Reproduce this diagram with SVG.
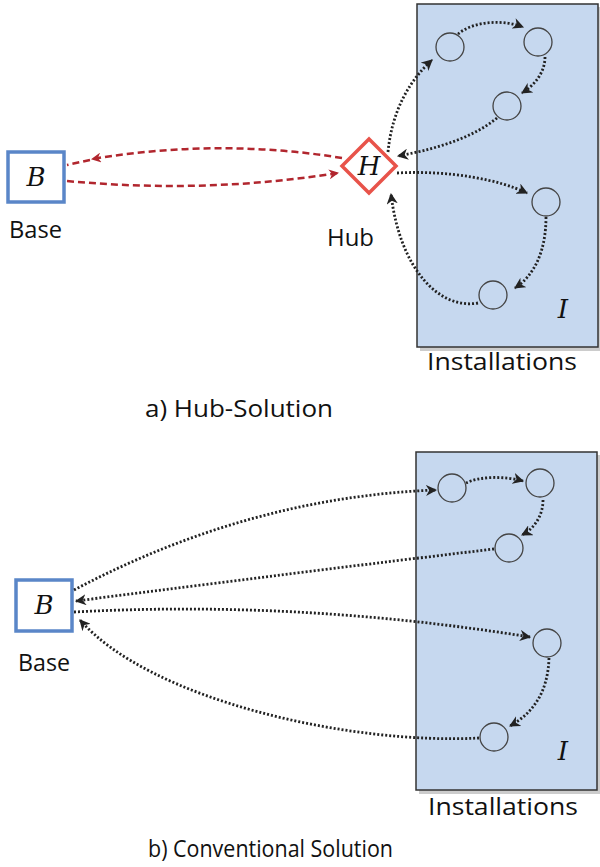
<svg xmlns="http://www.w3.org/2000/svg" width="600" height="867" viewBox="0 0 600 867">
<defs>
<style>
.lbl{font-family:"Open Sans",Lato,"Liberation Sans",sans-serif;font-size:23px;fill:#111;}
.sym{font-family:"DejaVu Serif","Liberation Serif",serif;font-style:italic;font-size:26px;fill:#111;}
.inst{fill:#c6d8ef;stroke:#333;stroke-width:1.5;}
.shadow{fill:#999;opacity:0.5;}
.node{fill:none;stroke:#444;stroke-width:1.3;}
.base{fill:#fff;stroke:#5a86c8;stroke-width:3.5;}
.hub{fill:#fff;stroke:#e8534a;stroke-width:3.5;}
.red{fill:none;stroke:#b1262e;stroke-width:2.5;stroke-dasharray:7 4;}
.dot{fill:none;stroke:#222;stroke-width:2.8;stroke-dasharray:2 2;}
</style>
<marker id="ab" viewBox="0 0 10 10" refX="9" refY="5" markerWidth="4" markerHeight="4" orient="auto" markerUnits="strokeWidth">
<path d="M0,0 L10,5 L0,10 L3,5 z" fill="#222"/>
</marker>
<marker id="ar" viewBox="0 0 10 10" refX="9" refY="5" markerWidth="4" markerHeight="4" orient="auto" markerUnits="strokeWidth">
<path d="M0,0 L10,5 L0,10 L3,5 z" fill="#b1262e"/>
</marker>
</defs>

<!-- Panel a -->
<g id="installations-a">
<rect class="shadow" x="420" y="7" width="182" height="344"/>
<rect class="inst" x="417" y="4" width="181" height="343"/>
<text class="sym" x="563" y="318" text-anchor="middle">I</text>
<text class="lbl" x="427" y="370" textLength="150" lengthAdjust="spacingAndGlyphs">Installations</text>
</g>
<g id="a-c1"><circle class="node" cx="450" cy="47" r="14"/></g>
<g id="a-c2"><circle class="node" cx="538" cy="42" r="14"/></g>
<g id="a-c3"><circle class="node" cx="507" cy="106" r="14"/></g>
<g id="a-c4"><circle class="node" cx="546" cy="202" r="14"/></g>
<g id="a-c5"><circle class="node" cx="493" cy="295" r="14"/></g>
<g id="base-a">
<rect class="base" x="8" y="152" width="56" height="50"/>
<text class="sym" x="36" y="186" text-anchor="middle">B</text>
<text class="lbl" x="9" y="238" textLength="53" lengthAdjust="spacingAndGlyphs">Base</text>
</g>
<g id="hub">
<polygon class="hub" points="369,139 396,166 369,193 342,166"/>
<text class="sym" x="369" y="175" text-anchor="middle">H</text>
<text class="lbl" x="327" y="246" textLength="47" lengthAdjust="spacingAndGlyphs">Hub</text>
</g>
<g id="connectors-a">
<path class="red" d="M342,158 Q220,138 92,159" marker-end="url(#ar)"/>
<path class="red" d="M90,160 L67,165"/>
<path class="red" d="M67,181 Q205,194 338,173" marker-end="url(#ar)"/>
<path class="dot" d="M388,152 C392,110 410,80 432,60" marker-end="url(#ab)"/>
<path class="dot" d="M458,34 C475,20 505,20 523,27" marker-end="url(#ab)"/>
<path class="dot" d="M545,57 C545,72 535,85 522,93" marker-end="url(#ab)"/>
<path class="dot" d="M497,118 C470,140 430,150 398,156" marker-end="url(#ab)"/>
<path class="dot" d="M397,173 C450,170 500,180 527,193" marker-end="url(#ab)"/>
<path class="dot" d="M546,217 C546,250 535,275 515,288" marker-end="url(#ab)"/>
<path class="dot" d="M478,303 C440,310 400,270 391,194" marker-end="url(#ab)"/>
</g>
<text class="lbl" x="145" y="417" textLength="188" lengthAdjust="spacingAndGlyphs">a) Hub-Solution</text>

<!-- Panel b -->
<g id="installations-b">
<rect class="shadow" x="419" y="455" width="182" height="339"/>
<rect class="inst" x="416" y="452" width="181" height="338"/>
<text class="sym" x="563" y="760" text-anchor="middle">I</text>
<text class="lbl" x="428" y="815" textLength="150" lengthAdjust="spacingAndGlyphs">Installations</text>
</g>
<g id="b-c1"><circle class="node" cx="452" cy="488" r="14"/></g>
<g id="b-c2"><circle class="node" cx="540" cy="483" r="14"/></g>
<g id="b-c3"><circle class="node" cx="509" cy="548" r="14"/></g>
<g id="b-c4"><circle class="node" cx="547" cy="643" r="14"/></g>
<g id="b-c5"><circle class="node" cx="494" cy="737" r="14"/></g>
<g id="base-b">
<rect class="base" x="16" y="580" width="56" height="51"/>
<text class="sym" x="44" y="614" text-anchor="middle">B</text>
<text class="lbl" x="18" y="671" textLength="52" lengthAdjust="spacingAndGlyphs">Base</text>
</g>
<g id="connectors-b">
<path class="dot" d="M74,590 Q250,497 436,490" marker-end="url(#ab)"/>
<path class="dot" d="M466,483 C480,476 505,476 523,481" marker-end="url(#ab)"/>
<path class="dot" d="M543,500 C543,515 535,528 522,535" marker-end="url(#ab)"/>
<path class="dot" d="M494,549 Q300,572 76,601" marker-end="url(#ab)"/>
<path class="dot" d="M74,612 Q300,600 530,637" marker-end="url(#ab)"/>
<path class="dot" d="M549,658 C548,690 535,712 510,726" marker-end="url(#ab)"/>
<path class="dot" d="M479,738 C350,745 150,700 80,620" marker-end="url(#ab)"/>
</g>
<text class="lbl" x="148" y="857" textLength="245" lengthAdjust="spacingAndGlyphs">b) Conventional Solution</text>
</svg>
